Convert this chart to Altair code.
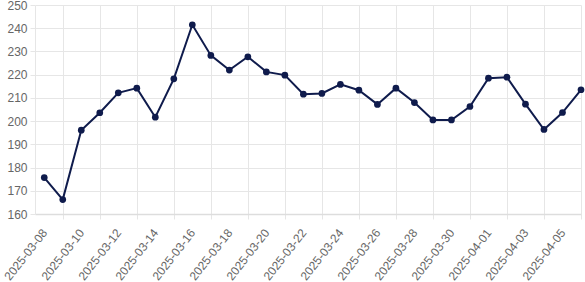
import altair as alt
import pandas as pd

dates = pd.date_range("2025-03-08", "2025-04-06", freq="D").strftime("%Y-%m-%d").tolist()
values = [175.7, 166.2, 196.1, 203.6, 212.2, 214.2, 201.7, 218.2, 241.5, 228.3,
          222.0, 227.7, 221.2, 219.8, 211.6, 211.9, 215.8, 213.3, 207.2, 214.2,
          208.0, 200.5, 200.5, 206.3, 218.5, 218.9, 207.3, 196.4, 203.7, 213.5]
y_ticks = [160, 170, 180, 190, 200, 210, 220, 230, 240, 250]

df = pd.DataFrame({"date": dates, "value": values})

ms = [int(pd.Timestamp(d, tz="UTC").value // 10**6) for d in dates]
day = 86400000
base = ms[0]
x_domain = [base - day // 2, ms[-1]]

odd_test = f"round((datum.value - {base}) / {day}) % 2 == 1"
even_test = f"round((datum.value - {base}) / {day}) % 2 == 0"

color = "#0f1b4c"
grid = "#e6e6e6"
label_color = "#666666"
font = "Liberation Sans"

x_enc = alt.X(
    "date:T",
    scale=alt.Scale(type="utc", domain=x_domain),
    axis=alt.Axis(
        values=ms,
        title=None,
        grid=True,
        gridColor=grid,
        gridOpacity={"condition": {"test": odd_test, "value": 1}, "value": 0},
        ticks=True,
        tickSize=5,
        tickColor=grid,
        tickOpacity={"condition": {"test": odd_test, "value": 1}, "value": 0},
        labelExpr=f"{even_test} ? utcFormat(datum.value, '%Y-%m-%d') : ''",
        labelAngle=-52,
        labelAlign="right",
        labelBaseline="middle",
        labelPadding=11,
        labelOverlap=False,
        labelBound=False,
        labelFlush=False,
        labelColor=label_color,
        labelFont=font,
        labelFontSize=12,
        domainColor="#dddddd",
        domainWidth=1.5,
    ),
)

y_enc = alt.Y(
    "value:Q",
    scale=alt.Scale(domain=[160, 250], nice=False, zero=False),
    axis=alt.Axis(
        values=y_ticks,
        title=None,
        grid=True,
        gridColor=grid,
        tickSize=5,
        tickColor=grid,
        labelPadding=3,
        labelColor=label_color,
        labelFont=font,
        labelFontSize=12,
        domainColor="#e6e6e6",
    ),
)

base_chart = alt.Chart(df).encode(x=x_enc, y=y_enc)
line = base_chart.mark_line(color=color, strokeWidth=2, clip=False)
pts = base_chart.mark_point(filled=True, color=color, size=45, opacity=1, clip=False)

chart = (
    alt.layer(line, pts)
    .properties(
        width=546,
        height=209,
        autosize=alt.AutoSizeParams(type="none"),
        padding={"left": 35, "top": 5, "right": 4, "bottom": 68},
        background="white",
    )
    .configure_view(stroke=None)
)

chart.save("out.html", embed_options={"renderer": "svg", "actions": False})
